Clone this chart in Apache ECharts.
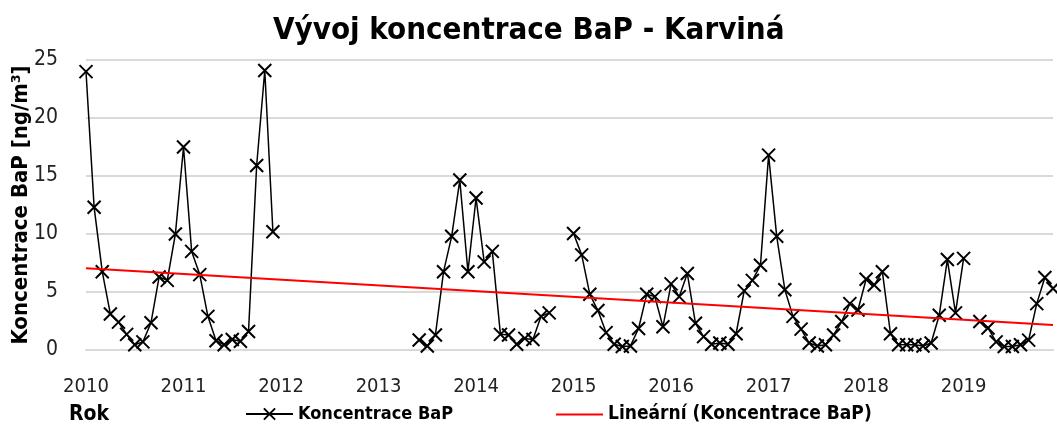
<!DOCTYPE html>
<html>
<head>
<meta charset="utf-8">
<script src="https://cdn.jsdelivr.net/npm/echarts@6/dist/echarts.min.js"></script>
<style>
  html, body { margin: 0; padding: 0; background: #fff; }
  #graf { width: 1057px; height: 426px; }
</style>
</head>
<body>
<div id="graf"></div>
<script>
// roky na ose x (popisky)
var roky = ['2010', '2011', '2012', '2013', '2014', '2015', '2016', '2017', '2018', '2019'];

// mesicni kategorie 2010-01 .. 2019-12
var mesice = [];
roky.forEach(function (r) {
    for (var m = 1; m <= 12; m++) {
        mesice.push(r + '-' + (m < 10 ? '0' + m : m));
    }
});

// mesicni koncentrace BaP [ng/m3], null = chybi mereni
var koncentrace = [
    // 2010
    24.0, 12.3, 6.75, 3.1, 2.4, 1.35, 0.45, 0.7, 2.35, 6.3, 6.0, 10.0,
    // 2011
    17.5, 8.5, 6.5, 2.9, 0.8, 0.45, 0.9, 0.75, 1.6, 15.9, 24.1, 10.2,
    // 2012
    null, null, null, null, null, null, null, null, null, null, null, null,
    // 2013
    null, null, null, null, null, 0.86, 0.35, 1.3, 6.75, 9.8, 14.65, 6.75,
    // 2014
    13.1, 7.6, 8.5, 1.35, 1.3, 0.5, 1.0, 0.9, 2.9, 3.2, null, null,
    // 2015
    10.05, 8.2, 4.8, 3.4, 1.5, 0.5, 0.3, 0.35, 1.85, 4.8, 4.6, 2.0,
    // 2016
    5.7, 4.6, 6.6, 2.3, 1.15, 0.5, 0.6, 0.5, 1.4, 5.1, 6.0, 7.3,
    // 2017
    16.8, 9.8, 5.2, 2.9, 1.8, 0.6, 0.35, 0.45, 1.3, 2.45, 4.0, 3.45,
    // 2018
    6.1, 5.6, 6.75, 1.4, 0.45, 0.45, 0.45, 0.35, 0.6, 3.0, 7.8, 3.2,
    // 2019
    7.9, null, 2.45, 1.9, 0.7, 0.3, 0.3, 0.45, 0.85, 4.0, 6.25, 5.3
];

// linearni trend - hodnoty na zacatku a konci
var trendZacatek = 7.05;
var trendKonec = 2.15;

// osa y
var osaY = { min: 0, max: 25, interval: 5 };

var pismo = "'Liberation Sans Narrow', 'DejaVu Sans Condensed', 'Roboto', sans-serif";

var myChart = echarts.init(document.getElementById('graf'));

var option = {
    animation: false,
    backgroundColor: '#fff',
    title: [
        {
            text: 'Vývoj koncentrace BaP - Karviná',
            left: 268,
            top: 10,
            textStyle: { fontFamily: pismo, fontSize: 31, fontWeight: 'bold', color: '#000' }
        },
        {
            text: 'Rok',
            left: 64,
            top: 399,
            textStyle: { fontFamily: pismo, fontSize: 21, fontWeight: 'bold', color: '#000' }
        }
    ],
    legend: [
        {
            data: ['Koncentrace BaP'],
            left: 240,
            top: 400,
            itemWidth: 47,
            itemHeight: 14,
            textStyle: { fontFamily: pismo, fontSize: 18, fontWeight: 'bold', color: '#000' }
        },
        {
            data: [{ name: 'Lineární (Koncentrace BaP)', itemStyle: { opacity: 0 } }],
            left: 550,
            top: 400,
            itemWidth: 47,
            itemHeight: 14,
            textStyle: { fontFamily: pismo, fontSize: 19, fontWeight: 'bold', color: '#000' }
        }
    ],
    grid: {
        left: 86,
        right: 4,
        top: 60,
        bottom: 76,
        outerBoundsMode: 'none'
    },
    xAxis: {
        type: 'category',
        data: mesice,
        boundaryGap: false,
        axisLine: { lineStyle: { color: '#d9d9d9', width: 2 } },
        axisTick: { show: false },
        axisLabel: {
            interval: function (index) { return index % 12 === 0; },
            formatter: function (v) { return v.slice(0, 4); },
            fontFamily: pismo,
            fontSize: 20,
            color: '#222',
            margin: 27
        },
        splitLine: { show: false }
    },
    yAxis: {
        type: 'value',
        min: osaY.min,
        max: osaY.max,
        interval: osaY.interval,
        name: 'Koncentrace BaP [ng/m³]',
        nameLocation: 'middle',
        nameGap: 54,
        nameMoveOverlap: false,
        nameTextStyle: { fontFamily: pismo, fontSize: 22, fontWeight: 'bold', color: '#000' },
        axisLine: { show: false },
        axisTick: { show: false },
        axisLabel: { fontFamily: pismo, fontSize: 21, color: '#222', margin: 28 },
        splitLine: { lineStyle: { color: '#d9d9d9', width: 2 } }
    },
    series: [
        {
            name: 'Koncentrace BaP',
            type: 'line',
            data: koncentrace,
            connectNulls: false,
            symbol: 'path://M0,0L10,10M10,0L0,10',
            symbolSize: 13,
            showAllSymbol: true,
            lineStyle: { color: '#000', width: 1.5 },
            itemStyle: { color: '#000', borderColor: '#000', borderWidth: 2 },
            z: 3
        },
        {
            name: 'Lineární (Koncentrace BaP)',
            type: 'line',
            data: [[0, trendZacatek], [mesice.length - 1, trendKonec]],
            symbol: 'none',
            lineStyle: { color: '#ff0000', width: 2 },
            itemStyle: { color: '#ff0000' },
            z: 4
        }
    ]
};

myChart.setOption(option);
</script>
</body>
</html>
